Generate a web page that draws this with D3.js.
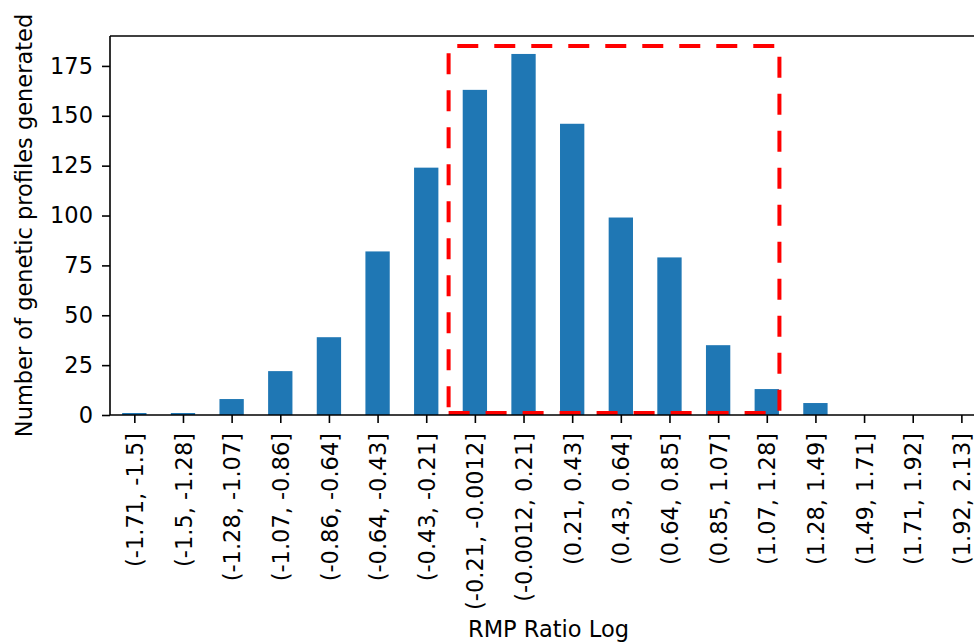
<!DOCTYPE html>
<html>
<head>
<meta charset="utf-8">
<script src="https://cdn.jsdelivr.net/npm/d3@7"></script>
<style>
  body { margin: 0; background: #fff; }
  svg { display: block; }
</style>
</head>
<body>
<div class="chart"></div>
<script>
const bins = [
  "(-1.71, -1.5]", "(-1.5, -1.28]", "(-1.28, -1.07]", "(-1.07, -0.86]",
  "(-0.86, -0.64]", "(-0.64, -0.43]", "(-0.43, -0.21]", "(-0.21, -0.0012]",
  "(-0.0012, 0.21]", "(0.21, 0.43]", "(0.43, 0.64]", "(0.64, 0.85]",
  "(0.85, 1.07]", "(1.07, 1.28]", "(1.28, 1.49]", "(1.49, 1.71]",
  "(1.71, 1.92]", "(1.92, 2.13]"
]
const counts = [1, 1, 8, 22, 39, 82, 124, 163, 181, 146, 99, 79, 35, 13, 6, 0, 0, 0]
const yTicks = [0, 25, 50, 75, 100, 125, 150, 175]
// highlight box, in data units (bar index, count)
const box = {x0: 6.46, x1: 13.26, y0: 1, y1: 185}

const width = 974
const height = 643
const margin = {top: 36, left: 110, bottom: 415}
const font = "'DejaVu Sans', sans-serif"
const fs = 22.5

// linear x so the cropped right side behaves like matplotlib's xlim
const x = d3.scaleLinear().domain([-0.5, 17.5]).range([margin.left, margin.left + 18 * 48.65])
const y = d3.scaleLinear().domain([0, 190]).range([margin.bottom, margin.top])
const barW = x(0.5) - x(0)

const svg = d3.select(".chart").append("svg")
  .attr("width", width)
  .attr("height", height)
  .attr("font-family", font)

svg.append("g")
  .attr("fill", "#1f77b4")
  .selectAll("rect")
  .data(counts)
  .join("rect")
  .attr("x", (d, i) => x(i) - barW / 2)
  .attr("width", barW)
  .attr("y", d => y(d))
  .attr("height", d => y(0) - y(d))

// dashed highlight rectangle (path starts bottom-left like matplotlib)
svg.append("path")
  .attr("d", `M${x(box.x0)},${y(box.y0)}H${x(box.x1)}V${y(box.y1)}H${x(box.x0)}Z`)
  .attr("fill", "none")
  .attr("stroke", "red")
  .attr("stroke-width", 4)
  .attr("stroke-dasharray", "21,16")

// y axis
const yAxis = svg.append("g")
  .attr("transform", `translate(${margin.left},0)`)
  .call(d3.axisLeft(y).tickValues(yTicks).tickSize(8).tickPadding(9))
yAxis.select(".domain").remove()
yAxis.selectAll(".tick line").attr("stroke", "#000").attr("stroke-width", 1.6)
yAxis.selectAll(".tick text")
  .attr("font-family", font)
  .attr("font-size", fs)
  .attr("fill", "#000")

// x axis
const xAxis = svg.append("g")
  .attr("transform", `translate(0,${margin.bottom})`)
  .call(d3.axisBottom(x).tickValues(d3.range(bins.length)).tickFormat(i => bins[i]).tickSize(8))
xAxis.select(".domain").remove()
xAxis.selectAll(".tick line").attr("stroke", "#000").attr("stroke-width", 1.6)
xAxis.selectAll(".tick text")
  .attr("font-family", font)
  .attr("font-size", fs)
  .attr("fill", "#000")
  .attr("text-anchor", "end")
  .attr("transform", "translate(0,18) rotate(-90)")
  .attr("x", 0)
  .attr("y", 0)
  .attr("dy", "0.36em")

// spines
svg.append("path")
  .attr("d", `M${margin.left},${margin.top}V${margin.bottom}H${width}`)
  .attr("fill", "none").attr("stroke", "#000").attr("stroke-width", 1.6)
svg.append("path")
  .attr("d", `M${margin.left},${margin.top}H${width}`)
  .attr("fill", "none").attr("stroke", "#000").attr("stroke-width", 1.6)

svg.append("text")
  .attr("x", (465 + 632) / 2)
  .attr("y", 637)
  .attr("text-anchor", "middle")
  .attr("font-size", fs)
  .text("RMP Ratio Log")

svg.append("text")
  .attr("transform", `translate(32,${(margin.top + margin.bottom) / 2}) rotate(-90)`)
  .attr("text-anchor", "middle")
  .attr("font-size", fs)
  .text("Number of genetic profiles generated")
</script>
</body>
</html>
